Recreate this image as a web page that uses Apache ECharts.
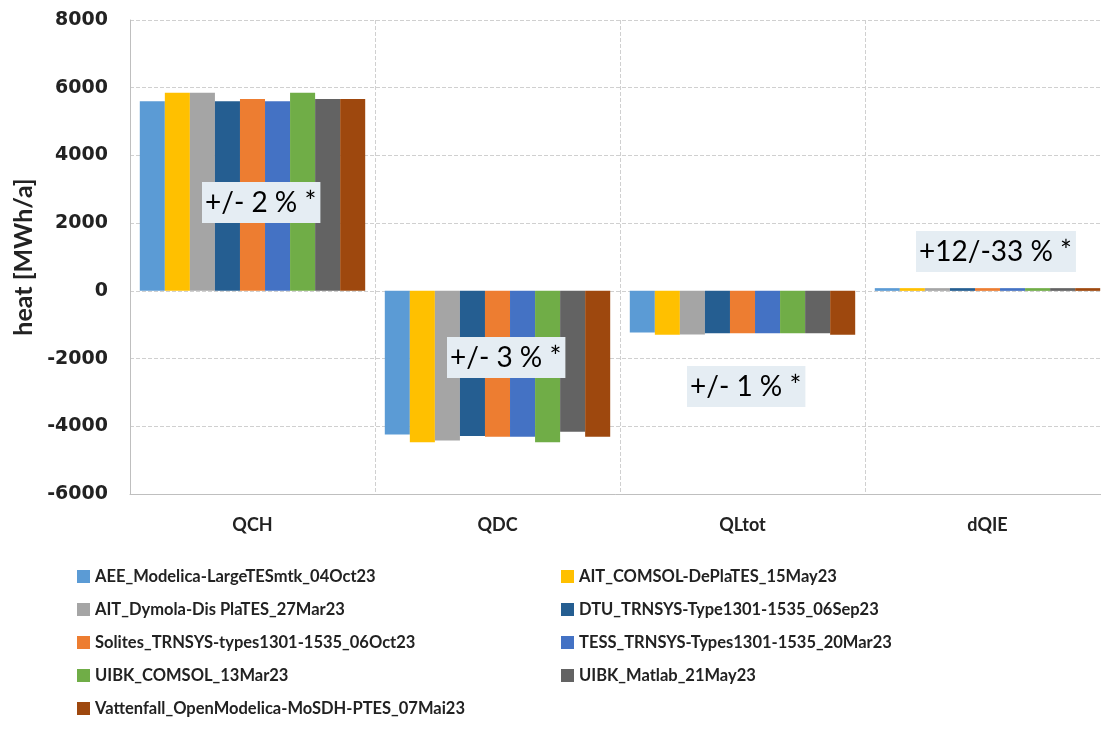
<!DOCTYPE html>
<html><head><meta charset="utf-8">
<script src="https://cdn.jsdelivr.net/npm/echarts@6/dist/echarts.min.js"></script>
<style>html,body{margin:0;padding:0;background:#fff}#c{width:1101px;height:738px}</style>
</head><body><div id="c"></div>
<script>
const categories = ['QCH','QDC','QLtot','dQIE'];
const seriesNames = [
  'AEE_Modelica-LargeTESmtk_04Oct23',
  'AIT_COMSOL-DePlaTES_15May23',
  'AIT_Dymola-Dis PlaTES_27Mar23',
  'DTU_TRNSYS-Type1301-1535_06Sep23',
  'Solites_TRNSYS-types1301-1535_06Oct23',
  'TESS_TRNSYS-Types1301-1535_20Mar23',
  'UIBK_COMSOL_13Mar23',
  'UIBK_Matlab_21May23',
  'Vattenfall_OpenModelica-MoSDH-PTES_07Mai23'
];
const colors = ['#5B9BD5','#FFC000','#A5A5A5','#255E91','#ED7D31','#4472C4','#70AD47','#636363','#9E480E'];
const AEE        = [5600, -4240, -1230, 80];
const AIT_COMSOL = [5850, -4470, -1300, 80];
const AIT_Dymola = [5850, -4420, -1290, 80];
const DTU        = [5600, -4290, -1250, 80];
const Solites    = [5670, -4310, -1250, 80];
const TESS       = [5600, -4310, -1250, 80];
const UIBK_COMSOL= [5850, -4470, -1250, 80];
const UIBK_Matlab= [5670, -4165, -1250, 80];
const Vattenfall = [5670, -4310, -1300, 80];
const allValues = [AEE, AIT_COMSOL, AIT_Dymola, DTU, Solites, TESS, UIBK_COMSOL, UIBK_Matlab, Vattenfall];
const yTicks = {min: -6000, max: 8000, interval: 2000};
const annotations = [
  {text: '+/- 2 % *', x: 202, y: 182},
  {text: '+/- 3 % *', x: 447, y: 337},
  {text: '+/- 1 % *', x: 687, y: 366},
  {text: '+12/-33 % *', x: 916, y: 231}
];

const FONT = 'Lato, "Open Sans", sans-serif';
const chart = echarts.init(document.getElementById('c'));
const series = seriesNames.map((n, i) => ({
  name: n, type: 'bar', data: allValues[i],
  itemStyle: {color: colors[i]},
  barGap: '0%', barCategoryGap: '8%'
}));
const leftCol = seriesNames.filter((_, i) => i % 2 === 0);
const rightCol = seriesNames.filter((_, i) => i % 2 === 1);
const legendBase = {
  orient: 'vertical', itemWidth: 13, itemHeight: 13, itemGap: 16,
  icon: 'rect',
  textStyle: {fontFamily: FONT, fontSize: 16.5, fontWeight: 'bold', color: '#222'}
};
chart.setOption({
  animation: false,
  textStyle: {fontFamily: FONT},
  grid: {left: 130, right: -9, top: 20, bottom: 244, containLabel: false, outerBoundsMode: 'none'},
  legend: [
    Object.assign({}, legendBase, {data: leftCol, left: 72, top: 563}),
    Object.assign({}, legendBase, {data: rightCol, left: 556, top: 563})
  ],
  xAxis: {
    type: 'category', data: categories, position: 'bottom',
    axisLine: {onZero: false, show: true, lineStyle: {color: '#bfbfbf'}},
    axisTick: {show: false},
    axisLabel: {fontFamily: FONT, fontSize: 18, fontWeight: 'bold', color: '#222', margin: 22},
    splitLine: {show: true, lineStyle: {color: '#d0d0d0', type: 'dashed'}}
  },
  yAxis: {
    type: 'value', min: yTicks.min, max: yTicks.max, interval: yTicks.interval,
    name: 'heat [MWh/a]', nameLocation: 'middle', nameGap: 82, nameRotate: 90,
    nameTextStyle: {fontFamily: FONT, fontSize: 25, fontWeight: 'bold', color: '#222'},
    axisLine: {show: true, lineStyle: {color: '#bfbfbf'}},
    axisTick: {show: false},
    axisLabel: {fontFamily: '"DejaVu Sans", sans-serif', fontSize: 19, fontWeight: 'bold', color: '#222', margin: 22,
      formatter: v => String(v)},
    splitLine: {show: true, lineStyle: {color: '#d0d0d0', type: 'dashed'}}
  },
  series: series,
  graphic: annotations.map(a => ({
    type: 'text', left: a.x, top: a.y, z: 100,
    style: {
      text: a.text, font: '28px ' + FONT, fill: '#000',
      backgroundColor: '#E5EDF3', padding: [7, 4, 6, 3]
    }
  }))
});
</script></body></html>
